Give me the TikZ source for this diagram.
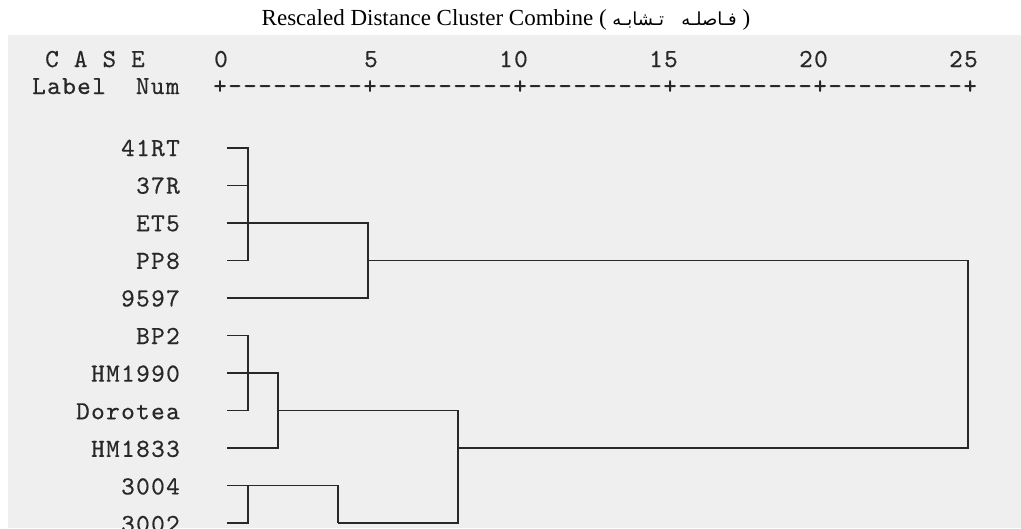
\documentclass[tikz,border=0pt]{standalone}
\usepackage{fontspec}
\setmainfont{Liberation Serif}
\setmonofont{lmmono10-regular.otf}[LetterSpace=5.2, FakeBold=0.4]
\newfontfamily\arabicfont[Script=Arabic]{DejaVu Sans}
\TeXXeTstate=1
\definecolor{scan}{RGB}{239,239,239}
\definecolor{ink}{RGB}{40,40,40}

\begin{document}
\begin{tikzpicture}
        [x=1pt, y=-1pt,
        caselbl/.style={font=\ttfamily\fontsize{26}{30}\selectfont, text=ink, inner sep=0pt, anchor=base east},
        hdr/.style={font=\ttfamily\fontsize{26}{30}\selectfont, text=ink, inner sep=0pt, anchor=base west},
        link/.style={line width=1.7pt, draw=ink}]
        \useasboundingbox (0,0) rectangle (1021,528);
        \fill[scan] (8,35) rectangle (1021,528);

        \node[font=\fontsize{23}{28}\selectfont, inner sep=0pt, anchor=base] (title) at (506,25)
            {Rescaled Distance Cluster Combine ( {\arabicfont\fontsize{18}{20}\selectfont\beginR فـاصلـه~~ تـشابـه\endR} )};

        \node[hdr] (case) at (45,67) {C A S E};
        \node[hdr] (label) at (32,94) {Label~~Num};
        \node[hdr] (axis) at (213,94) {+---------+---------+---------+---------+---------+};
        \foreach \u in {0,5,...,25}
            \node[caselbl] (n\u) at ({228+30*\u},67) {\u};

        % cases
        \foreach \name [count=\i] in {41RT,37R,ET5,PP8,9597,BP2,HM1990,Dorotea,HM1833,3004,3002} {
            \node[caselbl] (c\i) at (180,{156+37.6*(\i-1)}) {\name};
            \coordinate (s\i) at (227,{148+37.5*(\i-1)});
        }
        % joins on the rescaled axis
        \foreach \u in {1,2,4,5,8,25}
            \coordinate (d\u) at ({218+30*\u},0);

        \draw[link] (s1) -- (s1 -| d1) -- (s4 -| d1) -- (s4);
        \draw[link] (s2) -- (s2 -| d1);
        \draw[link] (s3) -- (s3 -| d5) -- (s5 -| d5) -- (s5);
        \draw[link] (s4 -| d5) -- (s4 -| d25) -- (s9 -| d25) -- (s9 -| d8);

        \draw[link] (s6) -- (s6 -| d1) -- (s8 -| d1) -- (s8);
        \draw[link] (s7) -- (s7 -| d2) -- (s9 -| d2) -- (s9);
        \draw[link] (s8 -| d2) -- (s8 -| d8) -- (s11 -| d8) -- (s11 -| d4);

        \draw[link] (s10) -- (s10 -| d4) -- (s11 -| d4);
        \draw[link] (s11) -- (s11 -| d1) -- (s10 -| d1);

\end{tikzpicture}
\end{document}
